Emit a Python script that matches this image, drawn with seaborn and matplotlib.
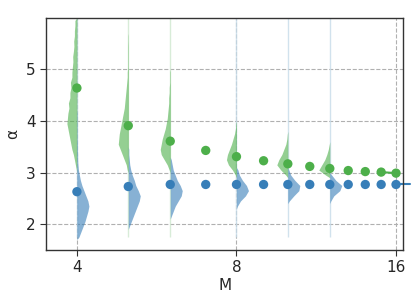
import numpy as np
import pandas as pd
import matplotlib
matplotlib.use('Agg')
import matplotlib.pyplot as plt
import seaborn as sns

# --- data ---
M_VALUES = [4, 5, 6, 7, 8, 9, 10, 11, 12, 13, 14, 15, 16]
ALPHA_GREEN = [4.64, 3.91, 3.61, 3.43, 3.31, 3.23, 3.17, 3.12, 3.08, 3.04, 3.02, 3.01, 2.99]
ALPHA_BLUE = [2.63, 2.73, 2.77, 2.77, 2.77, 2.77, 2.77, 2.77, 2.77, 2.77, 2.77, 2.77, 2.77]

# histograms: M -> (first bin start, bin widths in px) with 0.1 wide bins in alpha
HIST_M = [4, 5, 6, 8, 10, 12]
HIST_GREEN_START = [3.0, 3.0, 3.0, 2.9, 2.9, 2.9]
HIST_GREEN = [
    [0.5, 1.5, 2.5, 3.5, 5, 6, 7, 8, 9, 10, 9.5, 9, 8, 8.5, 7, 7, 6, 6.5, 5, 5,
     4.5, 4, 4.2, 3.5, 3, 3.2, 2.5, 2.5, 2, 2],
    [1, 2, 4, 6, 8, 10, 9.5, 9, 8, 7, 6, 5, 4, 3.5, 3, 2.5, 2, 1.5, 1, 1,
     0.5, 0.5, 0.5, 0.5, 0.5, 0.3, 0.3],
    [1, 3, 6, 9, 10, 9, 8, 6.5, 5, 4, 3, 2.5, 2, 1.5, 1.5, 1, 1, 0.5, 0.5, 0.5],
    [1, 4, 8, 10, 9, 7, 5, 3.5, 2, 1, 0.5],
    [2, 7, 11, 9, 6, 4, 2, 1, 0.5],
    [4, 11, 8, 5, 3, 1.5, 0.5],
]
HIST_BLUE_START = [1.7, 1.9, 2.1, 2.3, 2.4, 2.4]
HIST_BLUE = [
    [2, 4, 6, 8, 9.5, 11, 12, 11, 9, 7, 5, 3.5, 2.5, 1.5, 1, 0.7, 0.7, 0.5, 0.5,
     0.3, 0.3, 0.3, 0.3, 0.3, 0.3],
    [1, 3, 5, 7, 9, 11, 12, 10, 7.5, 6, 4, 2.5, 1.5, 1, 0.5, 0.5],
    [1, 3, 5, 8, 11, 12, 10, 7, 5, 3, 2, 1],
    [1, 4, 9, 12, 10, 6, 3, 1.5],
    [1.5, 6, 11, 12, 7, 3, 1],
    [1, 4, 10, 12, 6, 2],
]

GREEN = '#4daf4a'
BLUE = '#377eb8'
PX_PER_OCTAVE = 159.5

df = pd.DataFrame({
    'M': M_VALUES * 2,
    'alpha': ALPHA_GREEN + ALPHA_BLUE,
    'kind': ['green'] * len(M_VALUES) + ['blue'] * len(M_VALUES),
})

sns.set_style('white')
fig = plt.figure(figsize=(4.16, 3.03), dpi=100)
ax = fig.add_axes([0.111, 0.175, 0.858, 0.766])
ax.set_xscale('log', base=2)


def draw_hist(m, start, widths, color, side):
    centers = start + 0.05 + 0.1 * np.arange(len(widths))
    edges_y = np.concatenate([[start], centers, [start + 0.1 * len(widths)]])
    w = np.concatenate([[0], widths, [0]]) / PX_PER_OCTAVE
    ax.fill_betweenx(edges_y, m, m * 2 ** (side * w), color=color, alpha=0.6,
                     lw=0, zorder=2)


for i, m in enumerate(HIST_M):
    ax.vlines(m, 1.75, 6, color='#c6dbe9' if i != 1 and i != 2 else '#cfe8cf',
              lw=1, alpha=0.8, zorder=1)
    draw_hist(m, HIST_GREEN_START[i], HIST_GREEN[i], GREEN, -1)
    draw_hist(m, HIST_BLUE_START[i], HIST_BLUE[i], BLUE, 1)

sns.scatterplot(data=df, x='M', y='alpha', hue='kind',
                palette={'green': GREEN, 'blue': BLUE}, s=45, linewidth=0,
                legend=False, ax=ax, zorder=3)
ax.plot(M_VALUES[-2:], ALPHA_GREEN[-2:], color=GREEN, lw=1.5, zorder=2)
ax.plot([M_VALUES[-1], 17], [ALPHA_BLUE[-1]] * 2, color=BLUE, lw=1.5,
        zorder=2, clip_on=False)

ax.set_xlim(3.5, 16.5)
ax.set_ylim(1.5, 6.0)
ax.set_xticks([4, 8, 16])
ax.set_xticklabels(['4', '8', '16'])
ax.xaxis.set_minor_locator(matplotlib.ticker.NullLocator())
ax.set_yticks([2, 3, 4, 5])
ax.grid(True, ls='--', color='#b0b0b0', lw=0.8, zorder=0)
ax.set_axisbelow(True)
ax.tick_params(labelsize=11, length=4, left=True, bottom=True, color='#333333')
ax.set_xlabel('M', fontsize=11, labelpad=2)
ax.set_ylabel('α', fontsize=11, labelpad=4)
for sp in ax.spines.values():
    sp.set_color('#333333')
    sp.set_linewidth(1)

plt.savefig('out.png', dpi=100)
plt.close()
